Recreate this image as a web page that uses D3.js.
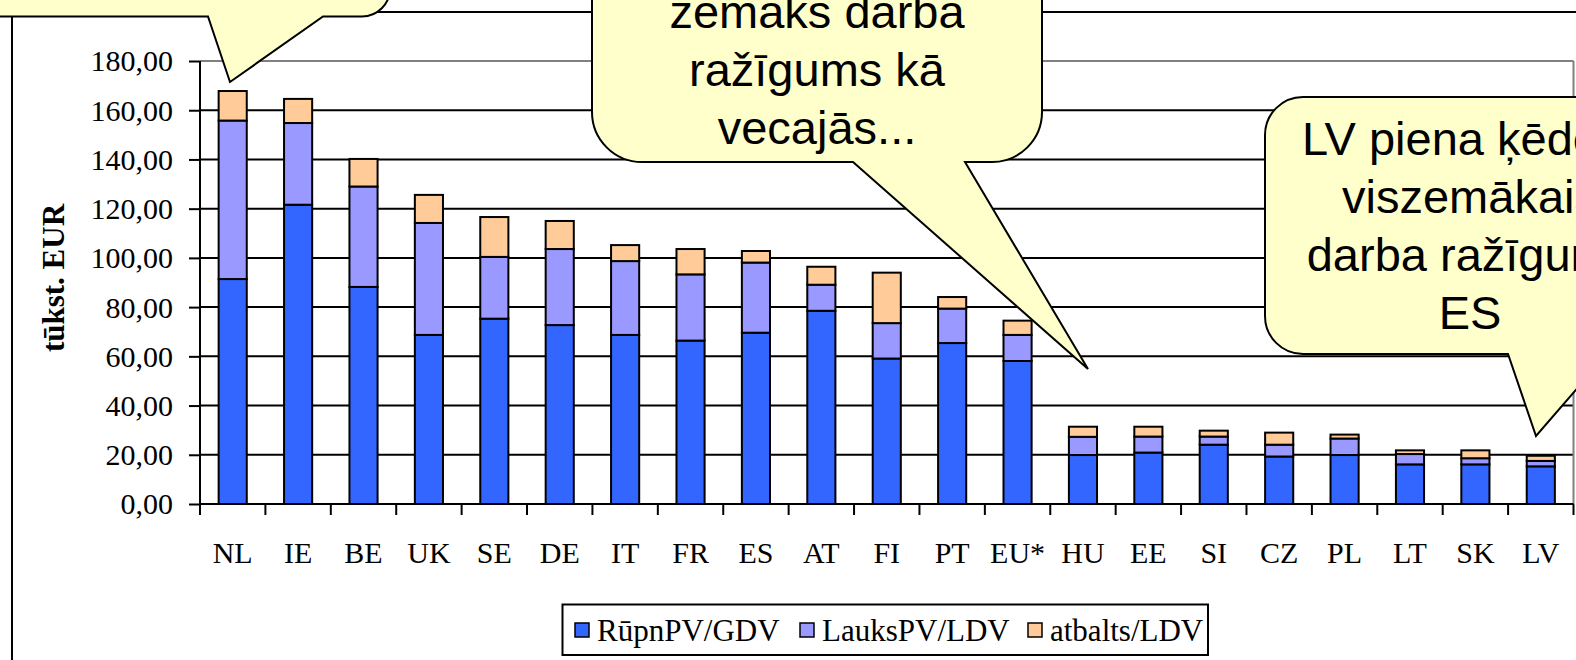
<!DOCTYPE html>
<html>
<head>
<meta charset="utf-8">
<script src="https://cdn.jsdelivr.net/npm/d3@7"></script>
<style>
  body { margin: 0; background: #fff; }
  svg { display: block; }
</style>
</head>
<body>
<script>
// categories and stacked values (tūkst. EUR)
let categories = ["NL", "IE", "BE", "UK", "SE", "DE", "IT", "FR", "ES", "AT", "FI", "PT", "EU*", "HU", "EE", "SI", "CZ", "PL", "LT", "SK", "LV"];
let rupnValues = [91.4, 121.6, 88.2, 68.7, 75.3, 72.7, 68.7, 66.4, 69.6, 78.5, 59.1, 65.4, 58.1, 19.9, 20.9, 24.1, 19.3, 19.9, 16.1, 16.1, 15.3];
let lauksValues = [64.4, 33.2, 40.8, 45.5, 25.1, 30.9, 30.0, 26.9, 28.5, 10.6, 14.4, 14.0, 10.6, 7.4, 6.5, 3.3, 4.8, 6.7, 4.2, 2.5, 2.2];
let atbaltsValues = [12.0, 9.8, 11.2, 11.4, 16.2, 11.4, 6.5, 10.3, 4.7, 7.3, 20.5, 4.7, 5.8, 4.1, 4.0, 2.4, 4.9, 1.6, 1.5, 3.2, 2.1];
let seriesNames = ["RūpnPV/GDV", "LauksPV/LDV", "atbalts/LDV"];
let yTicks = [0, 20, 40, 60, 80, 100, 120, 140, 160, 180];
let yTitle = "tūkst. EUR";
let middleNote = ["zemaks darba", "ražīgums kā", "vecajās..."];
let rightNote = ["LV piena ķēdē ir", "viszemākais", "darba ražīgums", "ES"];

let colors = ["#3366ff", "#9999ff", "#ffcc99"];
let W = 1576, H = 660;

let svg = d3.select("body").append("svg")
  .attr("width", W)
  .attr("height", H);

// outer chart frame
svg.append("line").attr("x1", 12).attr("y1", 12).attr("x2", W).attr("y2", 12)
  .attr("stroke", "#000").attr("stroke-width", 2);
svg.append("line").attr("x1", 12).attr("y1", 12).attr("x2", 12).attr("y2", H)
  .attr("stroke", "#000").attr("stroke-width", 2);

let x = d3.scaleBand()
  .domain(categories)
  .range([200, 1573.5])
  .paddingInner(0.57)
  .paddingOuter(0.285);

let y = d3.scaleLinear()
  .domain([0, 180])
  .range([504, 61]);

let table = categories.map(function(c, i) {
  return { cat: c, a: rupnValues[i], b: lauksValues[i], c: atbaltsValues[i] };
});
let stacked = d3.stack().keys(["a", "b", "c"])(table);

// grid lines
svg.append("g").selectAll("line")
  .data(yTicks.filter(function(d) { return d > 0; }))
  .enter().append("line")
  .attr("x1", 200).attr("x2", 1573.5)
  .attr("y1", function(d) { return y(d); })
  .attr("y2", function(d) { return y(d); })
  .attr("stroke", function(d) { return d == 180 ? "#808080" : "#000"; })
  .attr("stroke-width", 2);

// plot area right border
svg.append("line").attr("x1", 1573.5).attr("x2", 1573.5).attr("y1", y(180)).attr("y2", y(0))
  .attr("stroke", "#808080").attr("stroke-width", 2);

// bars
svg.append("g").selectAll("g")
  .data(stacked)
  .enter().append("g")
  .attr("fill", function(d, i) { return colors[i]; })
  .selectAll("rect")
  .data(function(d) { return d; })
  .enter().append("rect")
  .attr("x", function(d) { return x(d.data.cat); })
  .attr("width", x.bandwidth())
  .attr("y", function(d) { return y(d[1]); })
  .attr("height", function(d) { return y(d[0]) - y(d[1]); })
  .attr("stroke", "#000")
  .attr("stroke-width", 2);

// y axis
let fmt = function(d) { return d3.format(".2f")(d).replace(".", ","); };
let yAxis = svg.append("g")
  .attr("transform", "translate(200,0)")
  .call(d3.axisLeft(y).tickValues(yTicks).tickFormat(fmt).tickSize(11).tickPadding(16));
yAxis.select(".domain").attr("stroke", "#000").attr("stroke-width", 2).attr("d", "M0," + y(180) + "V" + y(0));
yAxis.selectAll(".tick line").attr("stroke", "#000").attr("stroke-width", 2);
yAxis.selectAll(".tick text")
  .attr("font-family", "'Liberation Serif', 'Times New Roman', serif")
  .attr("font-size", 30)
  .attr("fill", "#000")
  .attr("dy", "0.33em");

// x axis line, boundary ticks and labels
svg.append("line").attr("x1", 200).attr("x2", 1573.5).attr("y1", y(0)).attr("y2", y(0))
  .attr("stroke", "#000").attr("stroke-width", 2);
let bounds = d3.range(categories.length + 1).map(function(i) { return x.range()[0] + i * x.step(); });
svg.append("g").selectAll("line")
  .data(bounds)
  .enter().append("line")
  .attr("x1", function(d) { return d; }).attr("x2", function(d) { return d; })
  .attr("y1", y(0)).attr("y2", y(0) + 11)
  .attr("stroke", "#000").attr("stroke-width", 2);

let xAxis = svg.append("g")
  .attr("transform", "translate(0," + y(0) + ")")
  .call(d3.axisBottom(x).tickSize(0));
xAxis.select(".domain").remove();
xAxis.selectAll(".tick text")
  .attr("y", 59)
  .attr("dy", 0)
  .attr("font-family", "'Liberation Serif', 'Times New Roman', serif")
  .attr("font-size", 30)
  .attr("fill", "#000");

// y axis title
svg.append("text")
  .attr("transform", "translate(64,278) rotate(-90)")
  .attr("text-anchor", "middle")
  .attr("font-family", "'Liberation Serif', 'Times New Roman', serif")
  .attr("font-weight", "bold")
  .attr("font-size", 31)
  .text(yTitle);

// legend
let legend = svg.append("g");
legend.append("rect")
  .attr("x", 562.5).attr("y", 604.5).attr("width", 645.5).attr("height", 50.5)
  .attr("fill", "#fff").attr("stroke", "#000").attr("stroke-width", 2);
let legendX = [575, 800, 1028];
seriesNames.forEach(function(name, i) {
  legend.append("rect")
    .attr("x", legendX[i]).attr("y", 623).attr("width", 14).attr("height", 14)
    .attr("fill", colors[i]).attr("stroke", "#000").attr("stroke-width", 1.5);
  legend.append("text")
    .attr("x", legendX[i] + 22).attr("y", 641)
    .attr("font-family", "'Liberation Serif', 'Times New Roman', serif")
    .attr("font-size", 31)
    .text(name);
});

// callouts
function calloutPath(x0, y0, x1, y1, r, b1, tip, b2) {
  return "M" + (x0 + r) + "," + y0 +
    "H" + (x1 - r) +
    "A" + r + "," + r + " 0 0 1 " + x1 + "," + (y0 + r) +
    "V" + (y1 - r) +
    "A" + r + "," + r + " 0 0 1 " + (x1 - r) + "," + y1 +
    "H" + b2 +
    "L" + tip[0] + "," + tip[1] +
    "L" + b1 + "," + y1 +
    "H" + (x0 + r) +
    "A" + r + "," + r + " 0 0 1 " + x0 + "," + (y1 - r) +
    "V" + (y0 + r) +
    "A" + r + "," + r + " 0 0 1 " + (x0 + r) + "," + y0 + "Z";
}

function callout(box, r, b1, tip, b2, lines, cx, baseline0) {
  let g = svg.append("g");
  g.append("path")
    .attr("d", calloutPath(box[0], box[1], box[2], box[3], r, b1, tip, b2))
    .attr("fill", "#ffffcc")
    .attr("stroke", "#000")
    .attr("stroke-width", 2)
    .attr("stroke-linejoin", "miter");
  g.selectAll("text")
    .data(lines)
    .enter().append("text")
    .attr("x", cx)
    .attr("y", function(d, i) { return baseline0 + i * 58; })
    .attr("text-anchor", "middle")
    .attr("font-family", "'Liberation Sans', Arial, sans-serif")
    .attr("font-size", 47)
    .attr("fill", "#000")
    .text(function(d) { return d; });
}

callout([-60, -200, 390, 16.5], 28, 208, [230, 82], 323, [], 0, 0);
callout([592, -200, 1042, 162], 50, 853, [1088, 369], 965, middleNote, 817, 28);
callout([1265, 97, 1675, 354], 38, 1508, [1536, 436], 1607, rightNote, 1470, 155);
</script>
</body>
</html>
